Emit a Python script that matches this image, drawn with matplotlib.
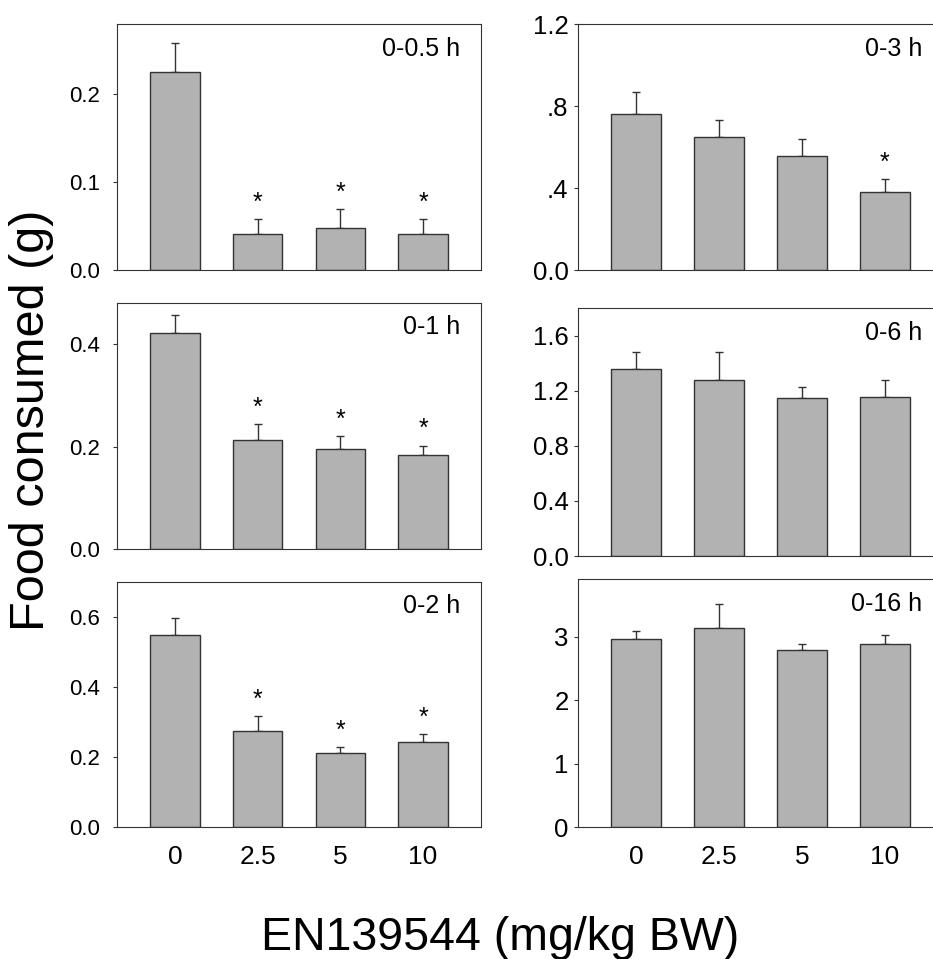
import numpy as np
import matplotlib.pyplot as plt

plt.rcParams['font.family'] = ['Liberation Sans', 'DejaVu Sans']

doses = ['0', '2.5', '5', '10']

# means and upper SEM ends for each time window
m_05 = [0.225, 0.042, 0.048, 0.042]
e_05 = [0.033, 0.016, 0.022, 0.017]
s_05 = [False, True, True, True]

m_1 = [0.421, 0.212, 0.195, 0.184]
e_1 = [0.035, 0.031, 0.026, 0.018]
s_1 = [False, True, True, True]

m_2 = [0.547, 0.274, 0.211, 0.242]
e_2 = [0.050, 0.044, 0.018, 0.024]
s_2 = [False, True, True, True]

m_3 = [0.761, 0.647, 0.558, 0.382]
e_3 = [0.106, 0.083, 0.080, 0.062]
s_3 = [False, False, False, True]

m_6 = [1.362, 1.278, 1.149, 1.159]
e_6 = [0.122, 0.206, 0.082, 0.123]
s_6 = [False, False, False, False]

m_16 = [2.96, 3.13, 2.79, 2.88]
e_16 = [0.12, 0.38, 0.09, 0.14]
s_16 = [False, False, False, False]

W, H = 933, 959
fig = plt.figure(figsize=(W / 100, H / 100), dpi=100)

edge = '#333333'
fill = '#b2b2b2'


def panel(box, means, errs, sig, label, ymax, yticks, yticklabels, ylsize, ypad, xlabels):
    l, t, r, b = box
    ax = fig.add_axes([l / W, 1 - b / H, (r - l) / W, (b - t) / H])
    x = np.arange(len(means))
    ax.bar(x, means, width=0.6, color=fill, edgecolor=edge, linewidth=1.0, zorder=2)
    ax.errorbar(x, means, yerr=[np.zeros(len(errs)), errs], fmt='none',
                ecolor=edge, elinewidth=1.0, capsize=3, capthick=1.0, zorder=1)
    for xi, mi, ei, si in zip(x, means, errs, sig):
        if si:
            ax.annotate('*', (xi, mi + ei), xytext=(0, 3), textcoords='offset points',
                        ha='center', va='bottom', fontsize=18)
    ax.set_xlim(-0.7, 3.7)
    ax.set_ylim(0, ymax)
    ax.set_yticks(yticks)
    ax.set_yticklabels(yticklabels)
    ax.tick_params(axis='y', direction='out', length=3, width=0.8, color=edge,
                   labelsize=ylsize, pad=ypad)
    ax.set_xticks(x)
    if xlabels:
        ax.set_xticklabels(doses)
        ax.tick_params(axis='x', length=0, labelsize=19, pad=13)
    else:
        ax.set_xticklabels([])
        ax.tick_params(axis='x', length=0)
    for sp in ax.spines.values():
        sp.set_color(edge)
        sp.set_linewidth(0.8)
    ax.annotate(label, (1, 1), xycoords='axes fraction', xytext=(-15, -9),
                textcoords='offset points', ha='right', va='top', fontsize=18)
    return ax


panel((117, 24, 481, 270.5), m_05, e_05, s_05, '0-0.5 h', 0.28,
      [0.0, 0.1, 0.2], ['0.0', '0.1', '0.2'], 16, 9, False)
panel((117, 302.7, 481, 549.3), m_1, e_1, s_1, '0-1 h', 0.48,
      [0.0, 0.2, 0.4], ['0.0', '0.2', '0.4'], 16, 9, False)
panel((117, 581.7, 481, 827.3), m_2, e_2, s_2, '0-2 h', 0.7,
      [0.0, 0.2, 0.4, 0.6], ['0.0', '0.2', '0.4', '0.6'], 16, 9, True)
panel((578.3, 24, 943, 270), m_3, e_3, s_3, '0-3 h', 1.2,
      [0.0, 0.4, 0.8, 1.2], ['0.0', '.4', '.8', '1.2'], 18.5, 4, False)
panel((578.3, 308.3, 943, 556), m_6, e_6, s_6, '0-6 h', 1.8,
      [0.0, 0.4, 0.8, 1.2, 1.6], ['0.0', '0.4', '0.8', '1.2', '1.6'], 18.5, 4, False)
panel((578.3, 579.3, 943, 827.3), m_16, e_16, s_16, '0-16 h', 3.9,
      [0, 1, 2, 3], ['0', '1', '2', '3'], 18.5, 4, True)

fig.text(0.034, 0.562, 'Food consumed (g)', rotation=90, ha='center', va='center', fontsize=35)
fig.text(500.5 / W, 1 - 950 / H, 'EN139544 (mg/kg BW)', ha='center', va='baseline', fontsize=33.5)

fig.savefig('out.png', dpi=100)
